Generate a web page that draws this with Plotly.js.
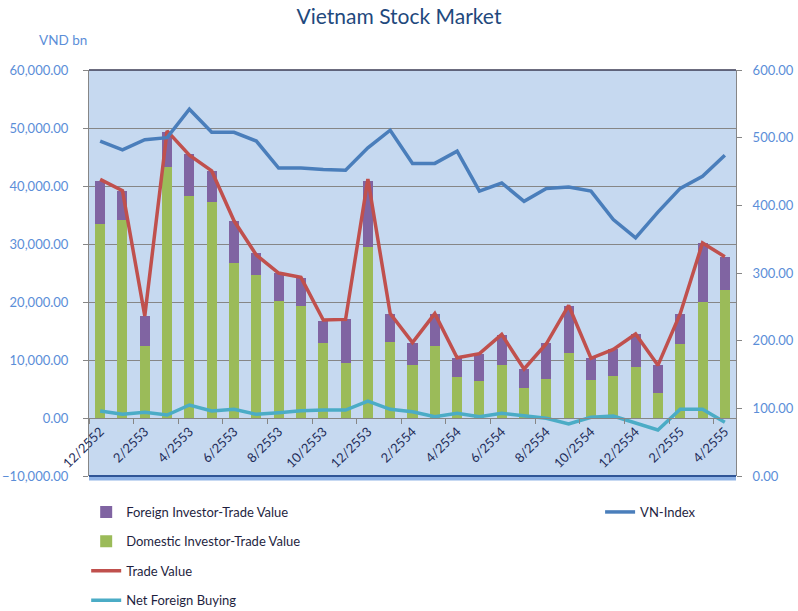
<!DOCTYPE html>
<html>
<head>
<meta charset="utf-8">
<script src="https://cdn.plot.ly/plotly-3.0.1.min.js"></script>
<style>html,body{margin:0;padding:0;background:#fff;}#chart{width:798px;height:611px;}</style>
</head>
<body>
<div id="chart"></div>
<script>
const months = ["12/2552","1/2553","2/2553","3/2553","4/2553","5/2553","6/2553","7/2553","8/2553","9/2553","10/2553","11/2553","12/2553",
  "1/2554","2/2554","3/2554","4/2554","5/2554","6/2554","7/2554","8/2554","9/2554","10/2554","11/2554","12/2554",
  "1/2555","2/2555","3/2555","4/2555"];
const domestic = [33450,34080,12360,43220,38270,37290,26720,24650,20170,19370,12930,9540,29480,13160,9110,12410,7130,6380,9080,5120,6720,11210,6550,7240,8850,4250,12760,20000,22070];
const foreign = [7460,5050,5230,6140,7240,5240,7300,3740,4880,4710,3850,7470,11380,4830,3820,5580,3270,4650,5230,3330,6210,8160,3740,4600,5630,4830,5230,10120,5740];
const tradeValue = [41150,39200,17600,49500,45300,42600,34000,28100,25000,24250,16900,17000,41200,18000,13000,18000,10400,11100,14400,8450,12800,19400,10300,11840,14480,9080,17990,30180,27810];
const netForeign = [1210,630,980,520,2240,1210,1500,630,920,1260,1380,1380,2930,1500,1090,230,800,230,800,345,-60,-1030,115,345,-800,-2070,1500,1500,-740];
const vnIndex = [495,482,497,500,542,508,508,495,455,455,453,452,485,511,462,462,480,421,433,406,425,427,421,379,352,390,425,443,474];

const FONT = "Lato, 'Open Sans', sans-serif";
const data = [
  {type:"bar", name:"Domestic Investor-Trade Value", x:months, y:domestic, marker:{color:"#9bbb59"}, legendrank:2, legendgroup:"b"},
  {type:"bar", name:"Foreign Investor-Trade Value", x:months, y:foreign, marker:{color:"#8064a2"}, legendrank:1, legendgroup:"a"},
  {type:"scatter", mode:"lines", name:"Trade Value", x:months, y:tradeValue, line:{color:"#c0504d", width:3.5}, legendrank:3, legendgroup:"c"},
  {type:"scatter", mode:"lines", name:"Net Foreign Buying", x:months, y:netForeign, line:{color:"#4bacc6", width:3.5}, legendrank:4, legendgroup:"d"},
  {type:"scatter", mode:"lines", name:"VN-Index", x:months, y:vnIndex, yaxis:"y2", line:{color:"#4a7ebb", width:3.5}, legend:"legend2"}
];
const layout = {
  width:798, height:611,
  margin:{l:89, r:62, t:70, b:135, autoexpand:false},
  paper_bgcolor:"#ffffff", plot_bgcolor:"#c6d9f0",
  barmode:"stack", bargap:0.55,
  title:{text:"Vietnam Stock Market", font:{family:FONT, size:21, color:"#1f497d"}, x:0.5, xanchor:"center", y:0.972, yanchor:"middle", xref:"container", yref:"container"},
  xaxis:{type:"category", anchor:"free", position:1/7, automargin:false, showgrid:false, showline:true, linecolor:"#868686", linewidth:1,
    tickmode:"linear", tick0:0, dtick:2, tickson:"boundaries", ticks:"outside", ticklen:5, tickcolor:"#868686",
    tickangle:-45, tickfont:{family:FONT, size:13, color:"#1f2d5a"}, range:[-0.5,28.5], zeroline:false},
  yaxis:{range:[-10000,60000], dtick:10000, tickformat:",.2f", automargin:false, showgrid:true, gridcolor:"#868686", gridwidth:1,
    showline:true, linecolor:"#868686", ticks:"outside", ticklen:5, tickcolor:"#868686", zeroline:false,
    tickfont:{family:FONT, size:13, color:"#5b8ed8"}, ticklabelstandoff:12},
  yaxis2:{overlaying:"y", side:"right", range:[0,600], dtick:100, tickformat:",.2f", automargin:false, showgrid:false, zeroline:false,
    showline:true, linecolor:"#868686", ticks:"outside", ticklen:5, tickcolor:"#868686",
    tickfont:{family:FONT, size:13, color:"#5b8ed8"}, ticklabelstandoff:8},
  legend:{xref:"container", yref:"container", x:0.108, xanchor:"left", y:0.1866, yanchor:"top", traceorder:"grouped",
    tracegroupgap:9.5, font:{family:FONT, size:13, color:"#1f1f3f"}, bgcolor:"rgba(0,0,0,0)"},
  legend2:{xref:"container", yref:"container", x:0.752, xanchor:"left", y:0.1866, yanchor:"top",
    font:{family:FONT, size:13, color:"#1f1f3f"}, bgcolor:"rgba(0,0,0,0)"},
  annotations:[{text:"VND bn", xref:"paper", yref:"paper", x:-0.04, y:1.074, xanchor:"center", yanchor:"middle", showarrow:false,
    font:{family:FONT, size:13.5, color:"#5b8ed8"}}],
  shapes:[
    {type:"line", xref:"paper", yref:"paper", x0:0, x1:1, y0:1, y1:1, line:{color:"#3b3b55", width:1.5}},
    {type:"line", xref:"paper", yref:"paper", x0:0, x1:1, y0:-0.006, y1:-0.006, line:{color:"#8fb3e6", width:4}},
    {type:"line", xref:"paper", yref:"paper", x0:0, x1:1, y0:0, y1:0, line:{color:"#2f5597", width:2}}
  ]
};
Plotly.newPlot("chart", data, layout, {displayModeBar:false, staticPlot:true});
</script>
</body>
</html>
